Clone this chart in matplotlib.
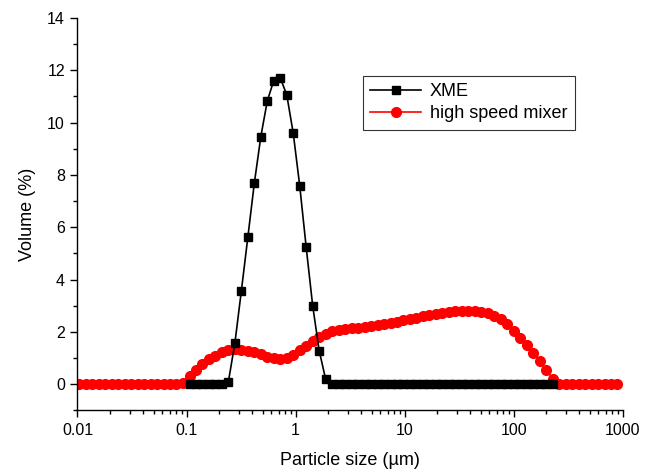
import matplotlib
matplotlib.use("Agg")
import matplotlib.pyplot as plt
from matplotlib.ticker import FixedLocator, FixedFormatter, LogLocator, NullFormatter, MultipleLocator

plt.rcParams['font.family'] = ['Liberation Sans', 'DejaVu Sans']

# particle size channels (µm)
size_um = [0.01038, 0.0119, 0.01365, 0.01565, 0.01795, 0.02058, 0.0236, 0.02706, 0.03103, 0.03558,
           0.0408, 0.04679, 0.05366, 0.06153, 0.07056, 0.08091, 0.09283, 0.1065, 0.1221, 0.14,
           0.1605, 0.1841, 0.2111, 0.2421, 0.2776, 0.3184, 0.3651, 0.4188, 0.4801, 0.5507,
           0.6316, 0.7245, 0.8307, 0.9524, 1.092, 1.2526, 1.4366, 1.6474, 1.8893, 2.1666,
           2.4848, 2.8497, 3.2676, 3.7471, 4.2974, 4.9288, 5.6506, 6.4802, 7.4302, 8.5214,
           9.7724, 11.207, 12.853, 14.737, 16.901, 19.383, 22.23, 25.49, 29.23, 33.52,
           38.44, 44.09, 50.56, 57.97, 66.49, 76.25, 87.44, 100.3, 115.0, 131.9,
           151.2, 173.4, 198.9, 228.0, 261.5, 299.9, 344.0, 394.5, 452.3, 518.7,
           594.9, 682.3, 782.4, 897.3]

# XME (channels 17..73)
xme_start, xme_end = 17, 74
xme_vol = [0, 0, 0, 0, 0, 0, 0.1, 1.57, 3.57, 5.62,
           7.69, 9.46, 10.83, 11.61, 11.71, 11.06, 9.60, 7.59, 5.23, 3.00,
           1.29, 0.19, 0, 0, 0, 0, 0, 0, 0, 0,
           0, 0, 0, 0, 0, 0, 0, 0, 0, 0,
           0, 0, 0, 0, 0, 0, 0, 0, 0, 0,
           0, 0, 0, 0, 0, 0, 0]

# high speed mixer
hsm_vol = [0, 0, 0, 0, 0, 0, 0, 0, 0, 0,
           0, 0, 0, 0, 0, 0, 0.05, 0.3, 0.55, 0.78,
           0.97, 1.1, 1.22, 1.3, 1.35, 1.33, 1.29, 1.22, 1.14, 1.06,
           0.99, 0.96, 1.0, 1.13, 1.3, 1.48, 1.65, 1.81, 1.93, 2.02,
           2.07, 2.11, 2.14, 2.17, 2.2, 2.23, 2.26, 2.3, 2.34, 2.39,
           2.45, 2.5, 2.55, 2.6, 2.65, 2.7, 2.74, 2.77, 2.8, 2.82,
           2.82, 2.81, 2.78, 2.73, 2.63, 2.48, 2.3, 2.05, 1.78, 1.5,
           1.2, 0.88, 0.56, 0.22, 0.02, 0, 0, 0, 0, 0,
           0, 0, 0, 0]

x_ticks = [0.01, 0.1, 1, 10, 100, 1000]
x_tick_labels = ['0.01', '0.1', '1', '10', '100', '1000']
y_ticks = [0, 2, 4, 6, 8, 10, 12, 14]

fig = plt.figure(figsize=(6.54, 4.72), dpi=100)
ax = fig.add_axes([0.1185, 0.1303, 0.8335, 0.8316])

ax.plot(size_um, hsm_vol, color='red', marker='o', markersize=7, linewidth=1.2,
        label='high speed mixer', zorder=2)
ax.plot(size_um[xme_start:xme_end], xme_vol, color='black', marker='s', markersize=5.5,
        linewidth=1.2, label='XME', zorder=3)

ax.set_xscale('log')
ax.set_xlim(0.01, 1000)
ax.set_ylim(-1, 14)

ax.xaxis.set_major_locator(FixedLocator(x_ticks))
ax.xaxis.set_major_formatter(FixedFormatter(x_tick_labels))
ax.xaxis.set_minor_locator(LogLocator(base=10, subs=range(2, 10)))
ax.xaxis.set_minor_formatter(NullFormatter())
ax.yaxis.set_major_locator(FixedLocator(y_ticks))
ax.yaxis.set_minor_locator(MultipleLocator(1))

for s in ['top', 'right']:
    ax.spines[s].set_visible(False)
for s in ['left', 'bottom']:
    ax.spines[s].set_linewidth(1.0)

ax.tick_params(axis='both', which='major', direction='out', length=5, width=1.0,
               labelsize=11.5, pad=4)
ax.tick_params(axis='both', which='minor', direction='out', length=3, width=1.0)

ax.set_xlabel('Particle size (µm)', fontsize=13, labelpad=10)
ax.set_ylabel('Volume (%)', fontsize=13, labelpad=8)

handles, labels = ax.get_legend_handles_labels()
leg = ax.legend(handles[::-1], labels[::-1], loc='upper left', bbox_to_anchor=(0.524, 0.853),
                fontsize=13, frameon=True, fancybox=False, edgecolor='black',
                borderpad=0.4, labelspacing=0.3, handlelength=2.8, handletextpad=0.5,
                borderaxespad=0)
leg.get_frame().set_linewidth(0.8)

fig.savefig('out.png', dpi=100)
